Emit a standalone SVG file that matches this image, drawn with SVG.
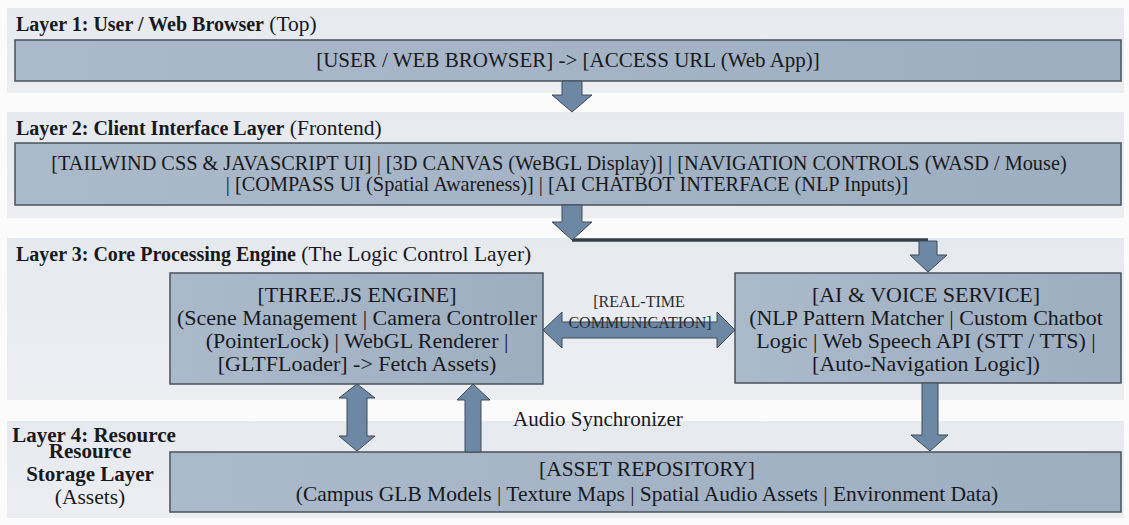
<svg xmlns="http://www.w3.org/2000/svg" width="1129" height="525" viewBox="0 0 1129 525">
  <defs>
    <linearGradient id="boxFill" x1="0" y1="0" x2="1" y2="0">
      <stop offset="0" stop-color="#abbacb"/>
      <stop offset="1" stop-color="#9daec1"/>
    </linearGradient>
    <linearGradient id="bandFill" x1="0" y1="0" x2="0" y2="1">
      <stop offset="0" stop-color="#e6e9ee"/>
      <stop offset="1" stop-color="#eceef2"/>
    </linearGradient>
  </defs>
  <style>
    .band { fill: url(#bandFill); }
    .box { fill: url(#boxFill); stroke: #4a525b; stroke-width: 1.5; }
    .arrow { fill: #6d88a4; stroke: #3f4a56; stroke-width: 1; stroke-linejoin: miter; }
    .wire { fill: none; stroke: #363f48; stroke-width: 3.5; }
    text { font-family: "Liberation Serif", "Times New Roman", serif; fill: #18191c; }
    .title { font-size: 21.5px; }
    .title .b { font-weight: bold; font-size: 20px; }
    .lbl4 { font-weight: bold; font-size: 21px; }
    .t20 { font-size: 20.3px; }
    .t21 { font-size: 21px; }
    .t22 { font-size: 22px; }
    .t215 { font-size: 21.5px; }
    .small { font-size: 16px; fill: #2a2c30; }
    .mid { text-anchor: middle; }
  </style>

  <rect width="1129" height="525" fill="#fbfbfc"/>

  <!-- layer bands -->
  <g id="bands">
    <rect class="band" x="7" y="8" width="1117" height="85"/>
    <rect class="band" x="7" y="112" width="1117" height="106"/>
    <rect class="band" x="7" y="238" width="1117" height="162"/>
    <rect class="band" x="7" y="421" width="1117" height="97"/>
  </g>

  <!-- band titles -->
  <g id="titles">
    <text class="title" x="16" y="31"><tspan class="b">Layer 1: User / Web Browser</tspan> (Top)</text>
    <text class="title" x="16" y="135"><tspan class="b">Layer 2: Client Interface Layer</tspan> (Frontend)</text>
    <text class="title" x="16" y="261"><tspan class="b">Layer 3: Core Processing Engine</tspan> (The Logic Control Layer)</text>
    <text class="lbl4 mid" x="94" y="442">Layer 4: Resource</text>
    <text class="lbl4 mid" x="90" y="458">Resource</text>
    <text class="lbl4 mid" x="90" y="481">Storage Layer</text>
    <text class="title mid" x="90" y="504">(Assets)</text>
  </g>

  <g id="user-browser">
    <rect class="box" x="15" y="40" width="1106" height="41"/>
    <text class="t21 mid" x="568" y="67">[USER / WEB BROWSER] -&gt; [ACCESS URL (Web App)]</text>
  </g>

  <g id="client-interface">
    <rect class="box" x="15" y="143" width="1106" height="62"/>
    <text class="t20 mid" x="559" y="170">[TAILWIND CSS &amp; JAVASCRIPT UI] | [3D CANVAS (WeBGL Display)] | [NAVIGATION CONTROLS (WASD / Mouse)</text>
    <text class="t20 mid" x="567" y="191">| [COMPASS UI (Spatial Awareness)] | [AI CHATBOT INTERFACE (NLP Inputs)]</text>
  </g>

  <g id="threejs-engine">
    <rect class="box" x="170" y="273" width="373" height="111"/>
    <text class="t22 mid" x="357" y="302">[THREE.JS ENGINE]</text>
    <text class="t22 mid" x="357" y="325">(Scene Management | Camera Controller</text>
    <text class="t22 mid" x="357" y="348">(PointerLock) | WebGL Renderer |</text>
    <text class="t22 mid" x="357" y="371">[GLTFLoader] -&gt; Fetch Assets)</text>
  </g>

  <g id="ai-voice-service">
    <rect class="box" x="735" y="273" width="386" height="110"/>
    <text class="t22 mid" x="926" y="302">[AI &amp; VOICE SERVICE]</text>
    <text class="t22 mid" x="926" y="325">(NLP Pattern Matcher | Custom Chatbot</text>
    <text class="t22 mid" x="926" y="348">Logic | Web Speech API (STT / TTS) |</text>
    <text class="t22 mid" x="926" y="371">[Auto-Navigation Logic])</text>
  </g>

  <g id="asset-repository">
    <rect class="box" x="170" y="452" width="951" height="60"/>
    <text class="t215 mid" x="647" y="476">[ASSET REPOSITORY]</text>
    <text class="t215 mid" x="647" y="501">(Campus GLB Models | Texture Maps | Spatial Audio Assets | Environment Data)</text>
  </g>

  <!-- connectors -->
  <g id="connectors">
    <!-- browser to client interface -->
    <polygon class="arrow" points="562,81 582,81 582,95 592,95 572,112 552,95 562,95"/>
    <!-- client interface down, then across to the AI service -->
    <polyline class="wire" points="572,240 928,240"/>
    <polygon class="arrow" points="562,205 582,205 582,222 592,222 572,240 552,222 562,222"/>
    <polygon class="arrow" points="919,241 937,241 937,255 947,255 928,272 910,255 919,255"/>
    <!-- real-time link between engine and AI service -->
    <polygon class="arrow" points="543,330 562,312 562,322 717,322 717,312 735,330 717,348 717,338 562,338 562,348"/>
    <!-- engine to asset repository (two-way) -->
    <polygon class="arrow" points="357,384 375,398 367,398 367,436 375,436 357,451 339,436 347,436 347,398 339,398"/>
    <!-- audio from asset repository up to engine -->
    <polygon class="arrow" points="473,384 490,400 481,400 481,452 465,452 465,400 457,400"/>
    <!-- AI service to asset repository -->
    <polygon class="arrow" points="922,383 938,383 938,435 948,435 930,451 911,435 922,435"/>
  </g>

  <g id="connector-labels">
    <text class="small mid" x="639" y="307">[REAL-TIME</text>
    <text class="small mid" x="640" y="328">COMMUNICATION]</text>
    <text class="t21" x="513" y="426">Audio Synchronizer</text>
  </g>
</svg>
